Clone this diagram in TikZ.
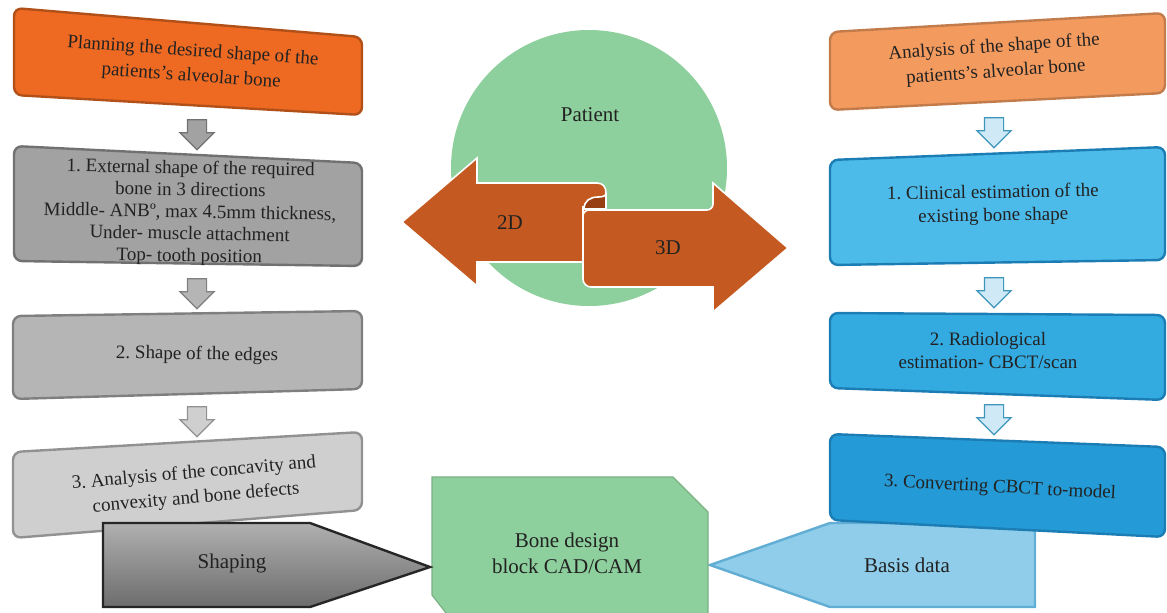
\documentclass[tikz,border=0pt]{standalone}
\usepackage{fontspec}
\setmainfont{Liberation Serif}
\usetikzlibrary{shapes.arrows}
\frenchspacing

\definecolor{ink}{HTML}{222222}
\definecolor{orgL}{HTML}{EE6A22}
\definecolor{orgR}{HTML}{F39A5E}
\definecolor{grayA}{HTML}{A2A2A2}
\definecolor{grayB}{HTML}{B5B5B5}
\definecolor{grayC}{HTML}{CFCFCF}
\definecolor{blueA}{HTML}{4DBBEA}
\definecolor{blueB}{HTML}{33ABE1}
\definecolor{blueC}{HTML}{249BD6}
\definecolor{blueEdge}{HTML}{1B7DB4}
\definecolor{paleBlue}{HTML}{CFE9F6}
\definecolor{basis}{HTML}{8FCDEA}
\definecolor{leaf}{HTML}{8ED09D}
\definecolor{rust}{HTML}{C45A21}
\definecolor{rustDark}{HTML}{983F12}

\begin{document}
\begin{tikzpicture}[x=0.5pt, y=-0.5pt,
    txt/.style = {align=center, text=ink, font=\fontsize{9.5}{11.5}\selectfont},
    wide/.style = {txt, font=\fontsize{9.5}{12.5}\selectfont},
    lbl/.style = {align=center, text=ink, font=\fontsize{10.5}{13}\selectfont},
    box/.style = {rounded corners=4pt, line width=1.2pt},
    down/.style = {single arrow, shape border rotate=270, line width=0.6pt,
        inner sep=4.5pt, minimum height=15pt, minimum width=16.5pt,
        single arrow head extend=3.75pt, single arrow head indent=0pt}]
    \useasboundingbox (0,0) rectangle (1167,612);
    \clip (0,0) rectangle (1167,612);

    % left column
    \filldraw[box, fill=orgL, draw=orgL!75!black] (14,8) -- (362,37) -- (362,115) -- (14,95) -- cycle;
    \node[wide, rotate=-4] (plan) at (192,64) {Planning the desired shape of the\\patients's alveolar bone};
    \filldraw[box, fill=grayA, draw=grayA!70!black] (14,146) -- (362,163) -- (362,266) -- (14,261) -- cycle;
    \node[txt, rotate=-1, font=\fontsize{9.5}{11}\selectfont] (ext) at (190,213) {1. External shape of the required\\bone in 3 directions\\Middle- ANBº, max 4.5mm thickness,\\Under- muscle attachment\\Top- tooth position};
    \filldraw[box, fill=grayB, draw=grayB!70!black] (13,316) -- (362,311) -- (362,389) -- (13,399) -- cycle;
    \node[txt, rotate=-1] (edge) at (197,355) {2. Shape of the edges};
    \filldraw[box, fill=grayC, draw=grayC!70!black] (13,452) -- (362,432) -- (362,510) -- (13,538) -- cycle;
    \node[wide, rotate=5] (conc) at (195,486) {3. Analysis of the concavity and\\convexity and bone defects};

    \node[down, fill=grayA, draw=grayA!70!black] (a1) at (197,130) {};
    \node[down, fill=grayB, draw=grayB!70!black] (a2) at (197,289) {};
    \node[down, fill=grayC, draw=grayC!70!black] (a3) at (197,417) {};

    % right column
    \filldraw[box, fill=orgR, draw=orgR!80!black] (830,32) -- (1165,13) -- (1165,93) -- (830,110) -- cycle;
    \node[wide, rotate=4] (anal) at (995,60) {Analysis of the shape of the\\patients's alveolar bone};
    \filldraw[box, fill=blueA, draw=blueEdge] (830,160) -- (1165,147) -- (1165,260) -- (830,265) -- cycle;
    \node[txt, rotate=1] (clin) at (993,205) {1. Clinical estimation of the\\existing bone shape};
    \filldraw[box, fill=blueB, draw=blueEdge] (830,313) -- (1165,315) -- (1165,400) -- (830,388) -- cycle;
    \node[txt] (radio) at (988,350) {2. Radiological\\estimation- CBCT/scan};
    \filldraw[fill=basis, draw=basis!60!blueEdge, line width=1.2pt] (1035,523) -- (830,523) -- (710,565) -- (830,607) -- (1035,607) -- cycle;
    \filldraw[box, fill=blueC, draw=blueEdge] (830,434) -- (1165,447) -- (1165,537) -- (830,520) -- cycle;
    \node[txt, rotate=-3] (conv) at (1000,488) {3. Converting CBCT to-model};

    \node[down, fill=paleBlue, draw=blueA!80!black] (b1) at (994,128) {};
    \node[down, fill=paleBlue, draw=blueA!80!black] (b2) at (994,288) {};
    \node[down, fill=paleBlue, draw=blueA!80!black] (b3) at (994,415) {};

    % centre
    \node[circle, fill=leaf, minimum size=138pt, inner sep=0pt] (pat) at (589,168) {};
    \node[lbl] (patient) at (590,115) {Patient};
    \filldraw[fill=rust, draw=white, line width=0.8pt] (402,222) -- (477,158) -- (477,183) -- (597,183)
        .. controls (603,183) and (606,187) .. (606,193) -- (606,262) -- (477,262) -- (477,286) -- cycle;
    \filldraw[fill=rust, draw=white, line width=0.8pt] (583,214) [rounded corners=3pt] -- (583,210) -- (713,210)
        [sharp corners] -- (713,183) -- (788,248) -- (713,312) -- (713,287) [rounded corners=4pt] -- (583,287) -- cycle;
    \filldraw[fill=rustDark, draw=white, line width=0.8pt] (606,193) -- (606,209) -- (584,209)
        .. controls (584,201) and (590,197) .. (598,197) .. controls (603,197) and (606,196) .. (606,193);
    \node[lbl] (twod) at (510,223) {2D};
    \node[lbl] (threed) at (668,248) {3D};

    % bottom row
    \filldraw[fill=leaf, draw=leaf!85!black, line width=0.6pt] (432,477) -- (673,477) -- (708,512) -- (708,640)
        -- (467,640) -- (432,595) -- cycle;
    \node[lbl] (bone) at (567,553) {Bone design\\block CAD/CAM};
    \filldraw[top color=gray!62, bottom color=gray!85!black, draw=black!85, line width=1.2pt]
        (103,523) -- (310,523) -- (430,567) -- (310,607) -- (103,607) -- cycle;
    \node[lbl] (shape) at (232,563) {Shaping};
    \node[lbl] (data) at (907,565) {Basis data};
\end{tikzpicture}
\end{document}
